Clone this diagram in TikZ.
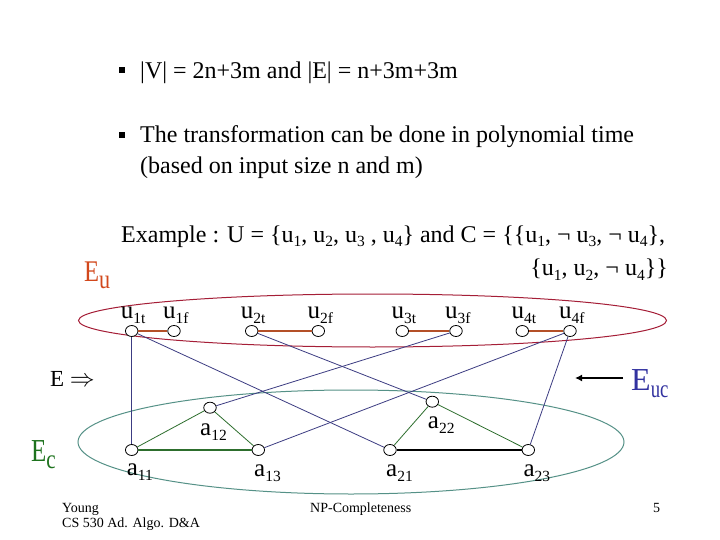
\documentclass[tikz,border=0pt]{standalone}
\usepackage{fontspec}
\setmainfont{Liberation Serif}
\usetikzlibrary{arrows.meta,shapes.geometric}
\definecolor{eucol}{RGB}{210,72,28}
\definecolor{ecol}{RGB}{30,115,30}
\definecolor{euccol}{RGB}{50,50,160}
\definecolor{redell}{RGB}{165,30,55}
\definecolor{grnell}{RGB}{85,145,135}
\definecolor{pairedge}{RGB}{180,80,40}
\definecolor{blueedge}{RGB}{60,60,130}
\definecolor{grnedge}{RGB}{45,110,45}
\newcommand\fsz[1]{\fontsize{#1}{#1}\selectfont}
\newcommand\sbx[2][5pt]{\raisebox{-#1}{\fsz{15.5}#2}}
\tikzset{
  maintext/.style={inner sep=0pt, font=\fsz{24}},
  bulletsq/.style={fill=black, inner sep=0pt, minimum width=6.5pt, minimum height=6.5pt},
  vlab/.style={inner sep=0pt, font=\fsz{25}},
  vtx/.style={draw, ellipse, fill=white, minimum width=12.5pt, minimum height=11pt, inner sep=0pt, line width=0.8pt},
  pairline/.style={draw=pairedge, line width=1.1pt},
  ucline/.style={draw=blueedge, line width=0.8pt},
  triline/.style={draw=grnedge, line width=0.8pt},
  footer/.style={inner sep=0pt, font=\fsz{14}},
}
\begin{document}
\begin{tikzpicture}[x=1pt,y=-1pt]
\fill[white] (0,0) rectangle (720,540);
\useasboundingbox (0,0) rectangle (720,540);

% text
\node[bulletsq] (b1) at (122,70) {};
\node[maintext, anchor=base west] (t1) at (140,79) {|V| = 2n+3m and |E| = n+3m+3m};
\node[bulletsq] (b2) at (122,135) {};
\node[maintext, anchor=base west] (t2) at (140,143) {The transformation can be done in polynomial time};
\node[maintext, anchor=base west] (t3) at (140,174) {(based on input size n and m)};
\node[maintext, anchor=base west] (t4) at (121,242) {Example : U = \{u\sbx{1}, u\sbx{2}, u\sbx{3} , u\sbx{4}\} and C = \{\{u\sbx{1}, ¬ u\sbx{3}, ¬ u\sbx{4}\},};
\node[maintext, anchor=base east] (t5) at (668,275) {\{u\sbx{1}, u\sbx{2}, ¬ u\sbx{4}\}\}};

% set labels
\node[inner sep=0pt, anchor=base west, text=eucol, font=\fsz{30}] (Eu) at (84,281.7) {\scalebox{0.82}[1]{E\raisebox{-6.5pt}{\fsz{27}u}}};
\node[inner sep=0pt, anchor=base west, font=\fsz{23}] (Eimp) at (50,386.7) {E $\Rightarrow$};
\node[inner sep=0pt, anchor=base west, text=ecol, font=\fsz{32}] (Ec) at (31,461.7) {\scalebox{0.78}[1]{E\raisebox{-6.5pt}{\fsz{27}c}}};
\node[inner sep=0pt, anchor=base west, text=euccol, font=\fsz{32}] (Euc) at (631,390) {E\raisebox{-7pt}{\scalebox{0.75}[1]{\fsz{25}uc}}};
\coordinate (arrS) at (623,378);
\coordinate (arrE) at (575,378);
\draw[line width=2pt, -{Latex[length=7pt,width=7pt]}] (arrS) -- (arrE);

% ellipses
\draw[redell, line width=1pt] (372.5,320.5) ellipse [x radius=294, y radius=26.5];
\draw[grnell, line width=1pt] (351,442) ellipse [x radius=273, y radius=52];

% vertices
\node[vtx] (u1t) at (131.7,331) {};
\node[vtx] (u1f) at (174,331) {};
\node[vtx] (u2t) at (251.7,331) {};
\node[vtx] (u2f) at (318.3,331) {};
\node[vtx] (u3t) at (402.3,331) {};
\node[vtx] (u3f) at (456,331) {};
\node[vtx] (u4t) at (522.3,331) {};
\node[vtx] (u4f) at (570,331) {};
\node[vtx] (a11) at (131.7,450) {};
\node[vtx] (a12) at (210,407.7) {};
\node[vtx] (a13) at (258.3,450) {};
\node[vtx] (a21) at (390,450) {};
\node[vtx] (a22) at (432.3,401.7) {};
\node[vtx] (a23) at (528.3,450) {};

% vertex labels
\node[vlab, anchor=base west] (lu1t) at (120.7,318.3) {u\sbx{1t}};
\node[vlab, anchor=base west] (lu1f) at (163,318.3) {u\sbx{1f}};
\node[vlab, anchor=base west] (lu2t) at (240.7,318.3) {u\sbx{2t}};
\node[vlab, anchor=base west] (lu2f) at (307.3,318.3) {u\sbx{2f}};
\node[vlab, anchor=base west] (lu3t) at (391.3,318.3) {u\sbx{3t}};
\node[vlab, anchor=base west] (lu3f) at (445,318.3) {u\sbx{3f}};
\node[vlab, anchor=base west] (lu4t) at (511.3,318.3) {u\sbx{4t}};
\node[vlab, anchor=base west] (lu4f) at (559,318.3) {u\sbx{4f}};
\node[vlab, anchor=base west] (la11) at (126.7,475) {a\sbx{11}};
\node[vlab, anchor=base west] (la12) at (200,435) {a\sbx{12}};
\node[vlab, anchor=base west] (la13) at (254,476.7) {a\sbx{13}};
\node[vlab, anchor=base west] (la21) at (386,476.7) {a\sbx{21}};
\node[vlab, anchor=base west] (la22) at (427.7,428.3) {a\sbx{22}};
\node[vlab, anchor=base west] (la23) at (523.3,476.7) {a\sbx{23}};

% E_u edges
\draw[pairline] (u1t) -- (u1f);
\draw[pairline] (u2t) -- (u2f);
\draw[pairline] (u3t) -- (u3f);
\draw[pairline] (u4t) -- (u4f);
% E_c edges
\draw[triline] (a11) -- (a12);
\draw[triline] (a12) -- (a13);
\draw[draw=grnedge, line width=1.4pt] (a11) -- (a13);
\draw[triline] (a21) -- (a22);
\draw[triline] (a22) -- (a23);
\draw[draw=black, line width=1.4pt] (a21) -- (a23);
% E_uc edges
\draw[ucline] (u1t) -- (a11);
\draw[ucline] (u3f) -- (a12);
\draw[ucline] (u4f) -- (a13);
\draw[ucline] (u1t) -- (a21);
\draw[ucline] (u2t) -- (a22);
\draw[ucline] (u4f) -- (a23);

% footer
\node[footer, anchor=base west] (f1) at (62,512.5) {Young};
\node[footer, anchor=base west] (f2) at (62,527.5) {CS 530 Ad. Algo. D\&A};
\node[footer, anchor=base west] (f3) at (310,512.5) {NP-Completeness};
\node[footer, anchor=base west] (f4) at (653,512.5) {5};
\end{tikzpicture}
\end{document}
